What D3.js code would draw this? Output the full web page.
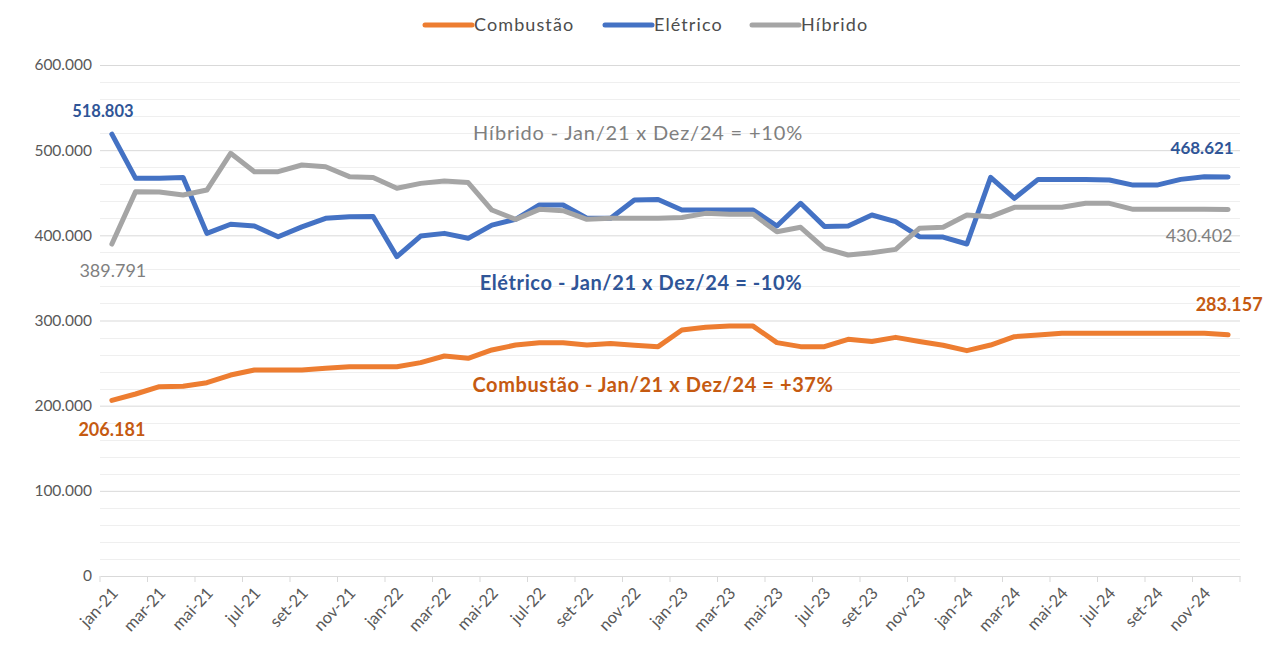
<!DOCTYPE html>
<html>
<head>
<meta charset="utf-8">
<script src="https://cdn.jsdelivr.net/npm/d3@7/dist/d3.min.js"></script>
<style>
  html, body { margin: 0; padding: 0; background: #fff; }
  svg { display: block; font-family: Lato, "Open Sans", sans-serif; }
</style>
</head>
<body>
<svg id="chart" width="1263" height="647"></svg>
<script>
// Monthly categories, jan-21 .. dez-24
const categories = [
  "jan-21","fev-21","mar-21","abr-21","mai-21","jun-21","jul-21","ago-21","set-21","out-21","nov-21","dez-21",
  "jan-22","fev-22","mar-22","abr-22","mai-22","jun-22","jul-22","ago-22","set-22","out-22","nov-22","dez-22",
  "jan-23","fev-23","mar-23","abr-23","mai-23","jun-23","jul-23","ago-23","set-23","out-23","nov-23","dez-23",
  "jan-24","fev-24","mar-24","abr-24","mai-24","jun-24","jul-24","ago-24","set-24","out-24","nov-24","dez-24"
];

const combustao = [
  206181, 213700, 222300, 222800, 227000, 236000, 241900, 241900, 242000, 243800, 245800, 245800,
  245800, 250500, 258300, 255600, 265400, 271200, 274000, 274000, 271200, 273000, 271000, 269300,
  288800, 292000, 293400, 293400, 274000, 269300, 269300, 277900, 275400, 280200, 275400, 271000,
  264600, 271200, 281000, 283000, 285000, 285000, 285000, 285000, 285000, 285000, 285000, 283157
];

const eletrico = [
  518803, 466900, 467000, 468000, 402300, 413000, 411000, 398400, 410000, 420000, 421900, 422000,
  374900, 399200, 402300, 396500, 412000, 418800, 435600, 435600, 420000, 420000, 441500, 442000,
  429700, 429700, 429700, 429700, 411000, 437600, 410500, 411000, 423900, 416000, 398400, 398000,
  389800, 468000, 443400, 465700, 465700, 465700, 465000, 459000, 459000, 465700, 468900, 468621
];

const hibrido = [
  389791, 451300, 451000, 447300, 453200, 496300, 474700, 474700, 482600, 480600, 468900, 468000,
  455200, 461000, 463800, 462000, 429700, 418800, 430500, 429000, 418800, 420000, 420000, 420000,
  421000, 425800, 424700, 424700, 404300, 409400, 384700, 376900, 379600, 383500, 408200, 409400,
  423900, 421900, 432900, 433000, 433000, 437600, 437600, 430500, 430500, 430500, 430500, 430402
];

const seriesNames = ["Combustão", "Elétrico", "Híbrido"];
const yTicks = [0, 100000, 200000, 300000, 400000, 500000, 600000];
const yMinorTicks = d3.range(0, 600001, 20000);

const comparisons = [
  "Combustão - Jan/21 x Dez/24 = +37%",
  "Elétrico - Jan/21 x Dez/24 = -10%",
  "Híbrido - Jan/21 x Dez/24 = +10%"
];

const lineColors = ["#ED7D31", "#4472C4", "#A5A5A5"];
const labelColors = ["#C55A11", "#2F5597", "#7F7F7F"];

const ptBR = d3.formatLocale({ decimal: ",", thousands: ".", grouping: [3], currency: ["R$", ""] });
const fmt = ptBR.format(",");

const svg = d3.select("#chart");
const plot = { left: 100, right: 1240, top: 65, bottom: 576 };

const x = d3.scaleBand().domain(categories).range([plot.left, plot.right]).padding(0);
const cx = c => x(c) + x.bandwidth() / 2;
const y = d3.scaleLinear().domain([0, 600000]).range([plot.bottom, plot.top]);

// minor gridlines
svg.append("g")
  .selectAll("line")
  .data(yMinorTicks.filter(v => v % 100000 !== 0))
  .join("line")
  .attr("x1", plot.left).attr("x2", plot.right)
  .attr("y1", d => Math.round(y(d)) + 0.5).attr("y2", d => Math.round(y(d)) + 0.5)
  .attr("stroke", "#efefef").attr("stroke-width", 1);

// major gridlines + y labels
const yAxis = d3.axisLeft(y).tickValues(yTicks).tickFormat(fmt)
  .tickSize(-(plot.right - plot.left)).tickPadding(8);
const gy = svg.append("g").attr("transform", `translate(${plot.left},0)`).call(yAxis);
gy.select(".domain").remove();
gy.selectAll(".tick line").attr("stroke", "#d9d9d9");
gy.selectAll(".tick text").attr("fill", "#595959").style("font-size", "15.5px")
  .style("font-family", "Lato, sans-serif");
gy.selectAll(".tick").filter(d => d === 0).select("line").remove();

// x axis
const xAxis = d3.axisBottom(x)
  .tickValues(categories.filter((c, i) => i % 2 === 0))
  .tickSize(0).tickPadding(0);
const gx = svg.append("g").attr("transform", `translate(0,${plot.bottom})`).call(xAxis);
gx.select(".domain").attr("stroke", "#d9d9d9");
// tick marks at category boundaries, every two months
gx.append("g").selectAll("line")
  .data(d3.range(0, categories.length + 1, 2))
  .join("line")
  .attr("x1", i => plot.left + i * x.bandwidth()).attr("x2", i => plot.left + i * x.bandwidth())
  .attr("y1", 0).attr("y2", 6)
  .attr("stroke", "#d9d9d9");
gx.selectAll(".tick text")
  .attr("fill", "#595959")
  .style("font-size", "16.5px")
  .style("font-family", "Lato, sans-serif")
  .attr("text-anchor", "end")
  .attr("dy", "0.35em")
  .attr("transform", "translate(3,14) rotate(-47)");

// lines
const data = [combustao, eletrico, hibrido];
const line = d3.line().x((d, i) => cx(categories[i])).y(d => y(d));
svg.append("g").selectAll("path")
  .data(data)
  .join("path")
  .attr("d", line)
  .attr("fill", "none")
  .attr("stroke", (d, i) => lineColors[i])
  .attr("stroke-width", 5)
  .attr("stroke-linejoin", "round")
  .attr("stroke-linecap", "round");

// first / last data labels
const first = categories[0], last = categories[categories.length - 1];
const endLabels = [
  { s: 0, c: first, dx: 0, dy: 31, size: 18, bold: true },
  { s: 0, c: last, dx: 1, dy: -28, size: 18, bold: true },
  { s: 1, c: first, dx: -9, dy: -21, size: 16.5, bold: true },
  { s: 1, c: last, dx: -26, dy: -27, size: 17, bold: true },
  { s: 2, c: first, dx: 1, dy: 28, size: 18, bold: false },
  { s: 2, c: last, dx: -29, dy: 27.5, size: 18, bold: false }
];
svg.append("g").selectAll("text")
  .data(endLabels)
  .join("text")
  .attr("x", d => cx(d.c) + d.dx)
  .attr("y", d => y(data[d.s][categories.indexOf(d.c)]) + d.dy)
  .attr("text-anchor", "middle")
  .attr("dominant-baseline", "middle")
  .attr("fill", d => labelColors[d.s])
  .style("font-size", d => d.size + "px")
  .style("font-weight", d => d.bold ? "bold" : "normal")
  .text(d => fmt(data[d.s][categories.indexOf(d.c)]));

// comparison notes
const notes = [
  { s: 0, x: 653, v: 222000, bold: true, size: 20, ls: 0.6 },
  { s: 1, x: 641, v: 342000, bold: true, size: 20, ls: 0.6 },
  { s: 2, x: 638, v: 518000, bold: false, size: 20, ls: 0.8 }
];
svg.append("g").selectAll("text")
  .data(notes)
  .join("text")
  .attr("x", d => d.x)
  .attr("y", d => y(d.v))
  .attr("text-anchor", "middle")
  .attr("dominant-baseline", "middle")
  .attr("fill", d => labelColors[d.s])
  .style("font-size", d => d.size + "px")
  .style("letter-spacing", d => d.ls + "px")
  .style("font-weight", d => d.bold ? "bold" : "normal")
  .text(d => comparisons[d.s]);

// legend
const legendItems = [
  { name: seriesNames[0], x: 425 },
  { name: seriesNames[1], x: 605 },
  { name: seriesNames[2], x: 752 }
];
const lg = svg.append("g").selectAll("g")
  .data(legendItems)
  .join("g")
  .attr("transform", d => `translate(${d.x},25)`);
lg.append("line")
  .attr("x1", 0).attr("x2", 47).attr("y1", 0).attr("y2", 0)
  .attr("stroke", (d, i) => lineColors[i])
  .attr("stroke-width", 5).attr("stroke-linecap", "round");
lg.append("text")
  .attr("x", 49).attr("y", 1)
  .attr("dominant-baseline", "middle")
  .attr("fill", "#4d4d4d")
  .style("font-size", "18px")
  .style("letter-spacing", "1.1px")
  .text(d => d.name);
</script>
</body>
</html>
